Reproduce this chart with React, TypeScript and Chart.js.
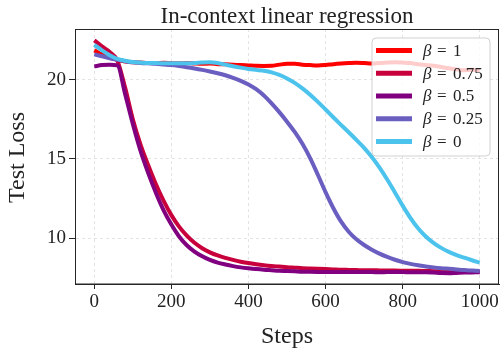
import React, { useEffect, useRef } from "react";
import { Chart, registerables } from "chart.js";

Chart.register(...registerables);

// Training steps at which the test loss was logged
const steps = [
  0, 20, 40, 60, 80, 100, 120, 140, 160, 180, 200, 220, 240, 260, 280, 300, 320, 340, 360, 380, 400,
  420, 440, 460, 480, 500, 520, 540, 560, 580, 600, 620, 640, 660, 680, 700, 720, 740, 760, 780, 800,
  820, 840, 860, 880, 900, 920, 940, 960, 980, 1000,
];

// Test loss per beta value
const lossBeta1 = [
  21.85, 21.6, 21.4, 21.25, 21.15, 21.1, 21.08, 21.05, 21.05, 21.07, 21.05, 21.03, 21.05, 21.02, 21.0,
  21.02, 20.98, 20.97, 20.95, 20.92, 20.9, 20.88, 20.87, 20.88, 20.95, 21.0, 21.0, 20.95, 20.92, 20.9,
  20.93, 20.98, 21.02, 21.05, 21.07, 21.05, 21.02, 21.05, 21.08, 21.1, 21.08, 21.05, 20.98, 20.93, 20.88,
  20.8, 20.72, 20.65, 20.6, 20.62, 20.6,
];
const lossBeta075 = [
  22.48, 22.1, 21.75, 21.2, 19.5, 17.5, 15.9, 14.6, 13.4, 12.35, 11.45, 10.72, 10.15, 9.7, 9.36, 9.1,
  8.9, 8.75, 8.62, 8.51, 8.42, 8.35, 8.29, 8.24, 8.2, 8.16, 8.13, 8.1, 8.08, 8.06, 8.04, 8.02, 8.0, 7.99,
  7.98, 7.97, 7.97, 7.96, 7.95, 7.95, 7.94, 7.93, 7.93, 7.92, 7.91, 7.9, 7.91, 7.9, 7.89, 7.88, 7.87,
];
const lossBeta05 = [
  20.84, 20.92, 20.95, 20.9, 19.1, 17.2, 15.5, 14.1, 12.85, 11.75, 10.85, 10.1, 9.55, 9.15, 8.85, 8.62,
  8.45, 8.33, 8.23, 8.15, 8.09, 8.04, 8.0, 7.97, 7.94, 7.92, 7.9, 7.88, 7.87, 7.86, 7.85, 7.85, 7.85,
  7.85, 7.85, 7.85, 7.85, 7.84, 7.85, 7.85, 7.85, 7.84, 7.84, 7.84, 7.82, 7.79, 7.78, 7.8, 7.82, 7.83,
  7.84,
];
const lossBeta025 = [
  21.6, 21.48, 21.35, 21.26, 21.17, 21.1, 21.06, 21.03, 21.0, 20.96, 20.92, 20.86, 20.79, 20.71, 20.62,
  20.52, 20.41, 20.28, 20.12, 19.93, 19.7, 19.4, 19.0, 18.5, 17.95, 17.35, 16.7, 15.95, 15.05, 14.0,
  12.9, 11.9, 11.05, 10.4, 9.92, 9.56, 9.27, 9.02, 8.81, 8.63, 8.48, 8.37, 8.28, 8.21, 8.15, 8.1, 8.06,
  8.02, 7.98, 7.95, 7.92,
];
const lossBeta0 = [
  22.2, 21.85, 21.55, 21.32, 21.2, 21.12, 21.08, 21.05, 21.05, 21.04, 21.03, 21.03, 21.03, 21.05, 21.08,
  21.1, 21.05, 20.95, 20.85, 20.76, 20.68, 20.62, 20.56, 20.46, 20.3, 20.08, 19.8, 19.45, 19.05, 18.6,
  18.12, 17.63, 17.15, 16.68, 16.2, 15.7, 15.12, 14.45, 13.7, 12.88, 12.05, 11.28, 10.62, 10.1, 9.7,
  9.38, 9.13, 8.93, 8.76, 8.6, 8.45,
];

const betaLabels = ["1", "0.75", "0.5", "0.25", "0"];
const series = [lossBeta1, lossBeta075, lossBeta05, lossBeta025, lossBeta0];

const xTicks = [0, 200, 400, 600, 800, 1000];
const yTicks = [10, 15, 20];

const titleText = "In-context linear regression";
const xTitle = "Steps";
const yTitle = "Test Loss";

const lineColors = ["#ff0000", "#c8003c", "#800080", "#6a5fc1", "#4cc3ec"];
const FONT = '"Liberation Serif", "DejaVu Serif", serif';
const INK = "#222222";
const SPINE = "#262626";

// Full box around the plot area (left/bottom come from the axes, top/right drawn here)
const framePlugin = {
  id: "frame",
  afterDatasetsDraw(chart: any) {
    const { ctx, chartArea: a } = chart;
    ctx.save();
    ctx.strokeStyle = SPINE;
    ctx.lineWidth = 1;
    ctx.strokeRect(a.left + 0.5, a.top + 0.5, a.right - a.left - 1, a.bottom - a.top - 0.5);
    ctx.restore();
  },
};

// Legend box in the upper right corner with a translucent white frame
const betaLegendPlugin = {
  id: "betaLegend",
  afterDatasetsDraw(chart: any) {
    const { ctx, chartArea: a } = chart;
    const bx = a.right - 127;
    const by = a.top + 9;
    const bw = 118;
    const bh = 118;
    const r = 4;
    ctx.save();
    ctx.beginPath();
    ctx.moveTo(bx + r, by);
    ctx.arcTo(bx + bw, by, bx + bw, by + bh, r);
    ctx.arcTo(bx + bw, by + bh, bx, by + bh, r);
    ctx.arcTo(bx, by + bh, bx, by, r);
    ctx.arcTo(bx, by, bx + bw, by, r);
    ctx.closePath();
    ctx.fillStyle = "rgba(255,255,255,0.8)";
    ctx.fill();
    ctx.strokeStyle = "rgba(204,204,204,0.9)";
    ctx.lineWidth = 1;
    ctx.stroke();

    betaLabels.forEach((lab, i) => {
      const y = by + 12.5 + i * 22.75;
      ctx.beginPath();
      ctx.moveTo(bx + 4, y);
      ctx.lineTo(bx + 40, y);
      ctx.strokeStyle = lineColors[i];
      ctx.lineWidth = 5;
      ctx.lineCap = "butt";
      ctx.stroke();

      ctx.fillStyle = INK;
      ctx.textBaseline = "middle";
      ctx.textAlign = "left";
      ctx.font = `italic 17px ${FONT}`;
      ctx.fillText("β", bx + 51, y + 1);
      ctx.font = `17px ${FONT}`;
      ctx.fillText("=", bx + 65, y + 1);
      ctx.fillText(lab, bx + 81, y + 1);
    });
    ctx.restore();
  },
};

// Title and axis titles
const textPlugin = {
  id: "texts",
  afterDraw(chart: any) {
    const { ctx, chartArea: a } = chart;
    const cx = (a.left + a.right) / 2;
    const cy = (a.top + a.bottom) / 2;
    ctx.save();
    ctx.fillStyle = INK;
    ctx.textAlign = "center";
    ctx.textBaseline = "alphabetic";
    ctx.font = `23px ${FONT}`;
    ctx.fillText(titleText, cx, a.top - 6);

    ctx.font = `24px ${FONT}`;
    ctx.fillText(xTitle, cx, a.bottom + 59);

    ctx.translate(24, cy + 1);
    ctx.rotate(-Math.PI / 2);
    ctx.fillText(yTitle, 0, 0);
    ctx.restore();
  },
};

export default function App() {
  const canvasRef = useRef<HTMLCanvasElement | null>(null);

  useEffect(() => {
    document.body.style.margin = "0";
    const canvas = canvasRef.current;
    if (!canvas) return;

    const tickFont = { family: FONT, size: 19 };

    const chart = new Chart(canvas, {
      type: "line",
      data: {
        labels: steps,
        datasets: series.map((vals, i) => ({
          label: `β = ${betaLabels[i]}`,
          data: steps.map((s, j) => ({ x: s, y: vals[j] })),
          borderColor: lineColors[i],
          backgroundColor: lineColors[i],
          borderWidth: 4,
          pointRadius: 0,
          fill: false,
          cubicInterpolationMode: "monotone" as const,
          borderCapStyle: "butt" as const,
          borderJoinStyle: "round" as const,
          order: series.length - i,
        })),
      },
      options: {
        animation: false,
        responsive: false,
        devicePixelRatio: 1,
        events: [],
        layout: { padding: { top: 29, right: 1, left: 0, bottom: 0 } },
        plugins: {
          legend: { display: false },
          title: { display: false },
          tooltip: { enabled: false },
        },
        scales: {
          x: {
            type: "linear",
            min: -50,
            max: 1050,
            afterBuildTicks: (s: any) => {
              s.ticks = xTicks.map((v) => ({ value: v }));
            },
            afterFit: (s: any) => {
              s.height = 68;
              s.paddingLeft = 0;
              s.paddingRight = 0;
            },
            ticks: {
              font: tickFont,
              color: INK,
              padding: 2,
              maxRotation: 0,
              autoSkip: false,
              callback: (v: any) => String(v),
            },
            grid: {
              color: "#e3e3e3",
              lineWidth: 1,
              tickLength: 5,
              tickColor: SPINE,
              tickWidth: 1,
            },
            border: { display: true, color: SPINE, width: 1, dash: [3, 3] },
          },
          y: {
            type: "linear",
            min: 7.1,
            max: 23.2,
            afterBuildTicks: (s: any) => {
              s.ticks = yTicks.map((v) => ({ value: v }));
            },
            afterFit: (s: any) => {
              s.width = 75;
              s.paddingTop = 0;
              s.paddingBottom = 0;
            },
            ticks: {
              font: tickFont,
              color: INK,
              padding: 3,
              autoSkip: false,
              callback: (v: any) => String(v),
            },
            grid: {
              color: "#e3e3e3",
              lineWidth: 1,
              tickLength: 6,
              tickColor: SPINE,
              tickWidth: 1,
            },
            border: { display: true, color: SPINE, width: 1, dash: [3, 3] },
          },
        },
      },
      plugins: [framePlugin, betaLegendPlugin, textPlugin],
    });

    return () => chart.destroy();
  }, []);

  return (
    <div style={{ position: "absolute", left: 0, top: 0, width: 500, height: 352 }}>
      <canvas ref={canvasRef} width={500} height={352} style={{ display: "block" }} />
    </div>
  );
}
